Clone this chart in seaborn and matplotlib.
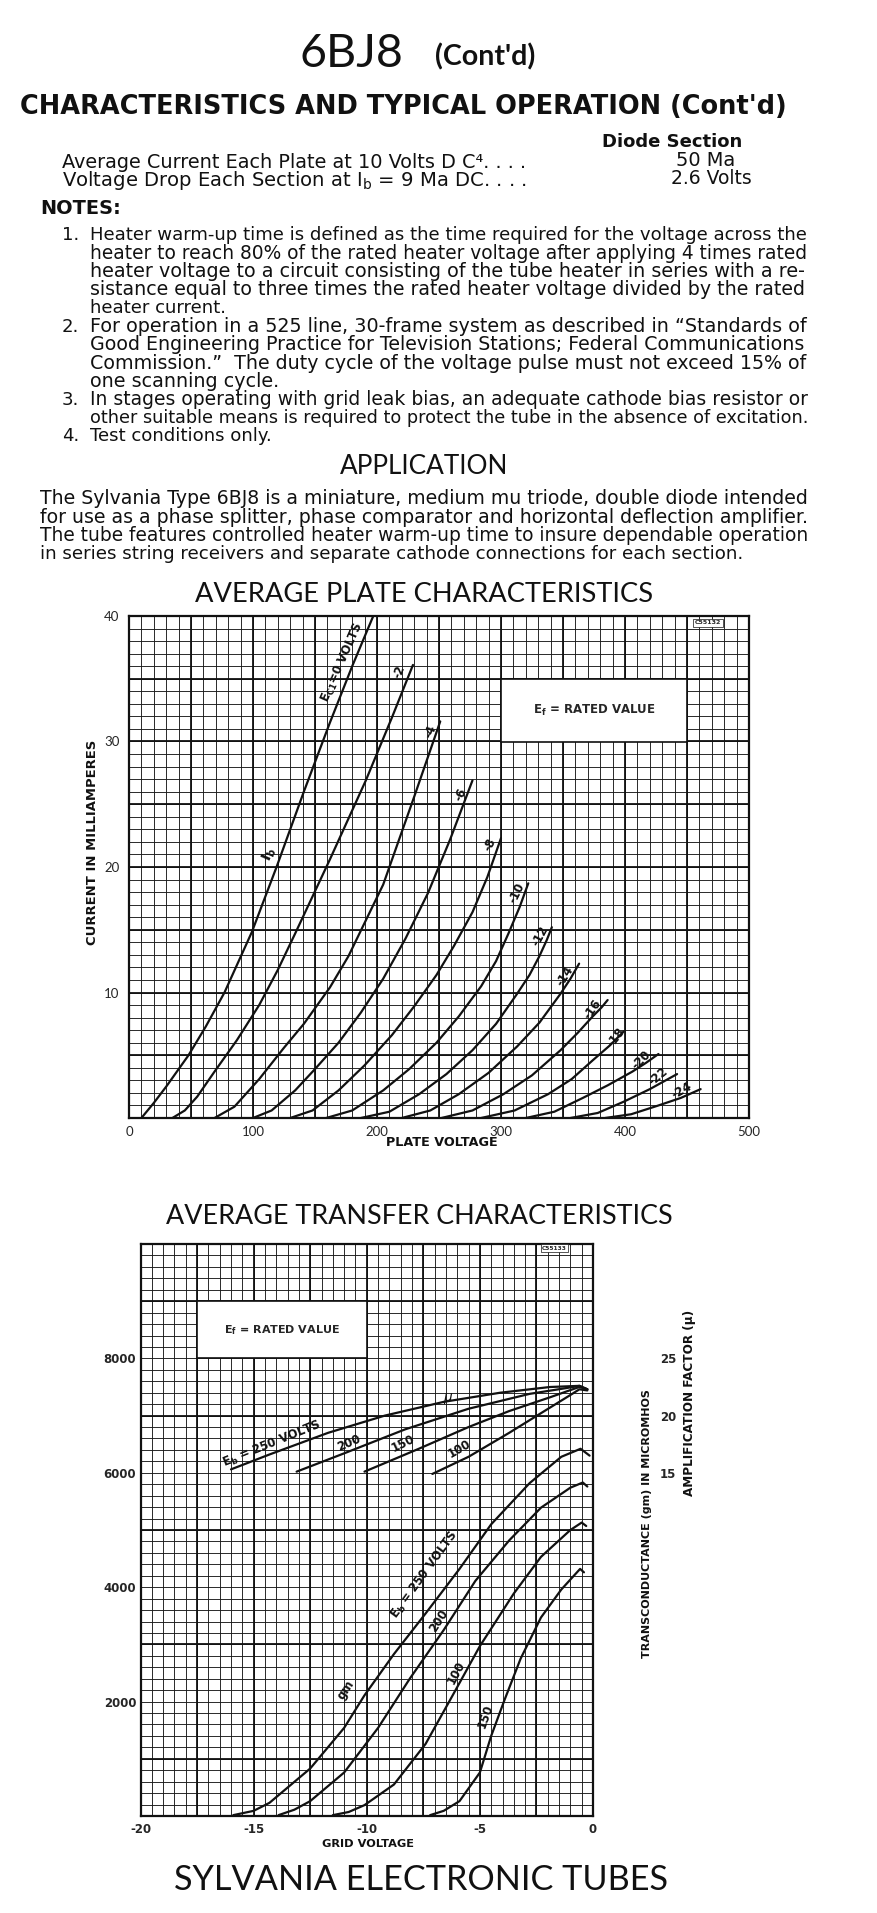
import matplotlib
matplotlib.use("Agg")
import matplotlib.pyplot as plt
import matplotlib.font_manager as fm
import matplotlib.transforms as mtransforms
from matplotlib.patches import Rectangle
import numpy as np
import pandas as pd
import seaborn as sns

# ---------------- average plate characteristics (Ib in mA vs Eb in volts) ----------------
grid_bias = [0, -2, -4, -6, -8, -10, -12, -14, -16, -18, -20, -22, -24]
plate_volts = [
    [10, 20, 30, 48, 62, 77, 99, 119, 141, 162, 180, 197],
    [35, 45, 55, 69, 87, 105, 120, 134, 162, 191, 212, 229],
    [69, 85, 105, 125, 141, 162, 177, 205, 230, 251],
    [100, 115, 134, 150, 169, 187, 205, 223, 241, 259, 277],
    [130, 148, 169, 190, 212, 230, 248, 262, 277, 289, 300],
    [159, 180, 205, 226, 248, 266, 284, 296, 306, 315, 322],
    [187, 210, 234, 256, 277, 296, 313, 323, 331, 337, 341],
    [220, 243, 266, 290, 313, 331, 348, 356, 363],
    [252, 277, 302, 325, 348, 362, 374, 381, 386],
    [284, 311, 338, 357, 374, 388, 399],
    [320, 343, 366, 386, 406, 417, 427],
    [356, 378, 399, 420, 442],
    [384, 405, 427, 445, 461],
]
plate_ma = [
    [0, 1.2, 2.5, 5.0, 7.3, 10.0, 14.8, 20.0, 26.0, 31.5, 36.0, 40.0],
    [0, 0.6, 1.7, 3.7, 6.2, 9.0, 11.8, 14.7, 20.6, 26.9, 31.9, 36.1],
    [0, 0.9, 3.1, 5.6, 7.5, 10.4, 12.9, 18.6, 25.6, 31.6],
    [0, 0.6, 2.2, 3.9, 6.0, 8.4, 11.1, 14.3, 17.9, 22.2, 26.9],
    [0, 0.6, 2.2, 4.2, 6.6, 8.9, 11.4, 13.7, 16.4, 19.2, 22.3],
    [0, 0.6, 2.2, 3.9, 6.0, 8.1, 10.5, 12.5, 14.7, 16.8, 18.7],
    [0, 0.5, 1.9, 3.5, 5.4, 7.5, 9.9, 11.4, 12.9, 14.2, 15.2],
    [0, 0.6, 1.9, 3.6, 5.7, 7.6, 9.9, 11.1, 12.3],
    [0, 0.6, 1.9, 3.4, 5.4, 6.8, 8.1, 8.8, 9.4],
    [0, 0.6, 1.9, 3.1, 4.6, 5.8, 6.9],
    [0, 0.5, 1.6, 2.6, 3.7, 4.4, 5.1],
    [0, 0.4, 1.3, 2.3, 3.5],
    [0, 0.3, 1.0, 1.6, 2.3],
]
plate_curve_text = ["-2", "-4", "-6", "-8", "-10", "-12", "-14", "-16", "-18", "-20", "-22", "-24"]
plate_text_pos = [(218, 35.6, 70), (243, 30.8, 68), (268, 25.8, 66), (291, 21.8, 65),
                  (313, 17.9, 64), (332, 14.5, 62), (352, 11.3, 58), (374, 8.7, 55),
                  (393, 6.4, 52), (413, 4.6, 45), (427, 3.3, 40), (446, 2.2, 30)]
plate_xticks = [0, 100, 200, 300, 400, 500]
plate_yticks = [10, 20, 30, 40]

# ---------------- average transfer characteristics ----------------
eb_mu = ["250", "200", "150", "100"]
mu_grid_volts = [
    [-16.0, -14.3, -11.7, -9.2, -6.6, -4.1, -1.9, -0.6, -0.25],
    [-13.1, -11.0, -8.3, -5.5, -2.8, -1.2, -0.6, -0.25],
    [-10.1, -7.7, -5.5, -3.7, -1.9, -0.9, -0.6, -0.25],
    [-7.1, -5.5, -3.7, -1.9, -1.0, -0.6, -0.25],
]
mu_values = [
    [15.3, 16.6, 18.5, 20.0, 21.2, 22.0, 22.5, 22.6, 22.3],
    [15.1, 16.7, 18.8, 20.6, 21.9, 22.4, 22.6, 22.3],
    [15.1, 17.1, 19.0, 20.4, 21.6, 22.3, 22.5, 22.3],
    [14.9, 16.4, 18.5, 20.7, 21.8, 22.3, 22.2],
]
eb_gm = ["250", "200", "100", "150"]   # printed this way on the sheet
gm_grid_volts = [
    [-15.9, -15.0, -14.3, -12.5, -11.0, -10.1, -8.8, -7.4, -5.9, -4.5, -2.8, -1.4, -0.55, -0.15],
    [-13.9, -13.2, -12.5, -11.0, -9.5, -8.1, -6.6, -5.2, -3.7, -2.3, -1.0, -0.45, -0.25],
    [-11.5, -10.8, -10.1, -8.8, -7.4, -6.3, -5.0, -3.5, -2.3, -1.0, -0.5, -0.3],
    [-7.2, -6.6, -5.9, -5.0, -4.5, -3.9, -3.2, -2.3, -1.4, -0.57, -0.4],
]
gm_values = [
    [15, 90, 230, 830, 1540, 2110, 2830, 3540, 4320, 5100, 5820, 6280, 6420, 6300],
    [15, 110, 260, 760, 1540, 2400, 3250, 4110, 4820, 5390, 5740, 5830, 5760],
    [15, 70, 190, 550, 1260, 2040, 2970, 3890, 4530, 5000, 5130, 5070],
    [15, 90, 260, 760, 1400, 2040, 2750, 3470, 3960, 4320, 4260],
]
grid_xticks = [-20, -15, -10, -5, 0]
gm_ticks = [2000, 4000, 6000, 8000]
mu_ticks = [15, 20, 25]


def pick_font(names):
    have = {f.name for f in fm.fontManager.ttflist}
    for n in names:
        if n in have:
            return n
    return "DejaVu Sans"


BODY = "DejaVu Sans"
NARROW = pick_font(["Liberation Sans Narrow", "DejaVu Sans"])
HEAD = pick_font(["Lato", "Open Sans", "DejaVu Sans"])

sns.set_style("white")
plt.rcParams["font.family"] = [BODY]
plt.rcParams["axes.unicode_minus"] = False

W, H = 878, 1913
fig = plt.figure(figsize=(W / 100, H / 100), dpi=100)
fig.patch.set_facecolor("white")
renderer = fig.canvas.get_renderer()


def put(x, y, s, length=None, size=10, family=BODY, weight="normal", ha="left", rotation=0):
    t = fig.text(x / W, 1 - y / H, s, fontsize=size, family=[family, "DejaVu Sans"],
                 weight=weight, ha=ha, va="center", rotation=rotation, color="#111111")
    if length:
        bb = t.get_window_extent(renderer)
        cur = bb.height if rotation == 90 else bb.width
        t.set_fontsize(size * length / cur)
    return t


# ---------------- page text ----------------
put(300, 54, "6BJ8", length=104, size=28, family=HEAD)
put(435, 57, "(Cont'd)", length=101, size=14, family=HEAD, weight="bold")
put(20, 107, "CHARACTERISTICS AND TYPICAL OPERATION (Cont'd)", length=764, size=20,
    family=NARROW, weight="bold")
put(602, 142, "Diode Section", length=140, size=11, weight="bold")
put(62, 162, "Average Current Each Plate at 10 Volts D C\u2074. . . .", length=466, size=11)
put(62, 180, r"Voltage Drop Each Section at I$_\mathrm{b}$ = 9 Ma DC. . . .", length=466, size=11)
put(706, 161, "50 Ma", length=59, size=11, ha="center")
put(711, 179, "2.6 Volts", length=81, size=11, ha="center")
put(40, 209, "NOTES:", length=81, size=12, weight="bold")

# full (justified) lines are fitted to the column; short closing lines keep the note's size
notes = [
    ("1.", [("Heater warm-up time is defined as the time required for the voltage across the", True),
            ("heater to reach 80% of the rated heater voltage after applying 4 times rated", True),
            ("heater voltage to a circuit consisting of the tube heater in series with a re-", True),
            ("sistance equal to three times the rated heater voltage divided by the rated", True),
            ("heater current.", False)]),
    ("2.", [("For operation in a 525 line, 30-frame system as described in \u201cStandards of", True),
            ("Good Engineering Practice for Television Stations; Federal Communications", True),
            ("Commission.\u201d  The duty cycle of the voltage pulse must not exceed 15% of", True),
            ("one scanning cycle.", False)]),
    ("3.", [("In stages operating with grid leak bias, an adequate cathode bias resistor or", True),
            ("other suitable means is required to protect the tube in the absence of excitation.", True)]),
    ("4.", [("Test conditions only.", False)]),
]
y = 235
note_size = None
for num, lines in notes:
    y0 = y
    first = None
    for text, full in lines:
        if full:
            sz = put(90, y, text, length=719, size=11).get_fontsize()
            first = first or sz
            note_size = note_size or sz
        else:
            put(90, y, text, size=first or note_size)
        y += 18.3
    put(62, y0, num, size=note_size)

put(424, 467, "APPLICATION", length=168, size=18, family=HEAD, ha="center")
app_lines = [
    ("The Sylvania Type 6BJ8 is a miniature, medium mu triode, double diode intended", 769),
    ("for use as a phase splitter, phase comparator and horizontal deflection amplifier.", 769),
    ("The tube features controlled heater warm-up time to insure dependable operation", 769),
    ("in series string receivers and separate cathode connections for each section.", 710),
]
for i, (text, length) in enumerate(app_lines):
    put(40, 499 + i * 18.4, text, length=length, size=11)

put(424, 595, "AVERAGE PLATE CHARACTERISTICS", length=457, size=18, family=HEAD, ha="center")
put(419, 1216, "AVERAGE TRANSFER CHARACTERISTICS", length=504, size=18, family=HEAD, ha="center")
put(421, 1880, "SYLVANIA ELECTRONIC TUBES", length=494, size=20, family=HEAD, ha="center")


def paper(ax, xmin, xmax, xstep, xmajor, ymin, ymax, ystep, ymajor):
    ax.vlines(np.arange(xmin, xmax + xstep / 2, xstep), ymin, ymax, color="#1a1a1a", lw=0.65, zorder=1)
    ax.hlines(np.arange(ymin, ymax + ystep / 2, ystep), xmin, xmax, color="#1a1a1a", lw=0.65, zorder=1)
    ax.vlines(xmajor, ymin, ymax, color="#111111", lw=1.3, zorder=1)
    ax.hlines(ymajor, xmin, xmax, color="#111111", lw=1.3, zorder=1)
    for s in ax.spines.values():
        s.set_visible(True)
        s.set_color("#111111")
        s.set_linewidth(1.6)


def curve_text(ax, x, y, s, angle, size=8.5, off=0):
    th = np.deg2rad(angle)
    tr = mtransforms.offset_copy(ax.transData, fig=fig, x=-off * np.sin(th), y=off * np.cos(th),
                                 units="dots")
    ax.text(x, y, s, transform=tr, rotation=angle, rotation_mode="anchor", ha="center",
            va="center", fontsize=size, weight="bold", color="#111111", zorder=5)


# ---------------- plate chart ----------------
ax1 = fig.add_axes([129 / W, 1 - 1118 / H, 620 / W, 502 / H])
paper(ax1, 0, 500, 10, np.arange(0, 501, 50), 0, 40, 1, np.arange(0, 41, 5))
ax1.add_patch(Rectangle((300, 30), 150, 5, facecolor="white", edgecolor="#111111", lw=1.2, zorder=2))
ax1.text(375, 32.5, r"E$_\mathbf{f}$ = RATED VALUE", ha="center", va="center", fontsize=8.5,
         weight="bold", zorder=5)
ax1.text(467, 39.45, "C55132", ha="center", va="center", fontsize=4.5, weight="bold", zorder=5,
         bbox=dict(boxstyle="square,pad=0.25", fc="white", ec="#111111", lw=0.5))

rows = []
for bias, vs, ms in zip(grid_bias, plate_volts, plate_ma):
    for v, m in zip(vs, ms):
        rows.append((bias, v, m))
plate_df = pd.DataFrame(rows, columns=["bias", "volts", "ma"])
sns.lineplot(data=plate_df, x="volts", y="ma", units="bias", estimator=None, sort=False,
             color="#111111", lw=1.6, ax=ax1, zorder=3, legend=False)

curve_text(ax1, 172, 36.3, r"E$_\mathbf{C1}$=0 VOLTS", 66, size=8.5)
curve_text(ax1, 113, 21.0, r"I$_\mathbf{b}$", 66, size=10)
for s, (vx, iy, ang) in zip(plate_curve_text, plate_text_pos):
    curve_text(ax1, vx, iy, s, ang, size=8.5)

ax1.set_xlim(0, 500)
ax1.set_ylim(0, 40)
ax1.set_xticks(plate_xticks)
ax1.set_xticklabels([str(v) for v in plate_xticks], family=HEAD, fontsize=9.5)
ax1.set_yticks(plate_yticks)
ax1.set_yticklabels([str(v) for v in plate_yticks], family=HEAD, fontsize=9.5)
ax1.tick_params(length=0)
ax1.tick_params(axis="x", pad=6)
ax1.tick_params(axis="y", pad=7)
ax1.set_xlabel("")
ax1.set_ylabel("")
put(442, 1143, "PLATE VOLTAGE", length=112, size=8.5, weight="bold", ha="center")
put(92, 842, "CURRENT IN MILLIAMPERES", length=205, size=8.5, weight="bold", ha="center", rotation=90)

# ---------------- transfer chart ----------------
ax2 = fig.add_axes([140.5 / W, 1 - 1816 / H, 452.5 / W, 572 / H])
paper(ax2, -20, 0, 0.5, np.arange(-20, 0.1, 2.5), 0, 10000, 200, np.arange(1000, 10000, 2000))
ax2.add_patch(Rectangle((-17.5, 8000), 7.5, 1000, facecolor="white", edgecolor="#111111", lw=1.2,
                        zorder=2))
ax2.text(-13.75, 8500, r"E$_\mathbf{f}$ = RATED VALUE", ha="center", va="center", fontsize=8,
         weight="bold", zorder=5)
ax2.text(-1.7, 9930, "C55133", ha="center", va="center", fontsize=4.2, weight="bold", zorder=5,
         bbox=dict(boxstyle="square,pad=0.25", fc="white", ec="#111111", lw=0.5))

rows = []
for name, vs, gs in zip(eb_gm, gm_grid_volts, gm_values):
    for v, g in zip(vs, gs):
        rows.append((name, v, g))
gm_df = pd.DataFrame(rows, columns=["eb", "grid", "gm"])
sns.lineplot(data=gm_df, x="grid", y="gm", units="eb", estimator=None, sort=False,
             color="#111111", lw=1.6, ax=ax2, zorder=3, legend=False)
ax2.set_xlim(-20, 0)
ax2.set_ylim(0, 10000)
ax2.set_xticks(grid_xticks)
ax2.set_xticklabels([str(v) for v in grid_xticks], fontsize=8.5, weight="bold")
ax2.yaxis.tick_right()
ax2.set_yticks(gm_ticks)
ax2.set_yticklabels([str(v) for v in gm_ticks], fontsize=8.5, weight="bold")
ax2.tick_params(length=0)
ax2.tick_params(axis="x", pad=5)
ax2.tick_params(axis="y", pad=3)
ax2.set_xlabel("")
ax2.set_ylabel("")

ax3 = ax2.twinx()
rows = []
for name, vs, ms in zip(eb_mu, mu_grid_volts, mu_values):
    for v, m in zip(vs, ms):
        rows.append((name, v, m))
mu_df = pd.DataFrame(rows, columns=["eb", "grid", "mu"])
sns.lineplot(data=mu_df, x="grid", y="mu", units="eb", estimator=None, sort=False,
             color="#111111", lw=1.6, ax=ax3, zorder=3, legend=False)
ax3.set_xlim(-20, 0)
ax3.set_ylim(-15, 35)
ax3.set_yticks(mu_ticks)
ax3.set_yticklabels([str(v) for v in mu_ticks], fontsize=8.5, weight="bold")
ax3.tick_params(length=0, pad=48)
ax3.set_xlabel("")
ax3.set_ylabel("")
for s in ax3.spines.values():
    s.set_visible(False)
ax3.grid(False)

curve_text(ax3, -14.2, 17.5, r"E$_\mathbf{b}$ = 250 VOLTS", 22, size=8.5)
curve_text(ax3, -10.8, 17.6, "200", 23, size=8.5)
curve_text(ax3, -8.4, 17.6, "150", 26, size=8.5)
curve_text(ax3, -5.9, 17.1, "100", 30, size=8.5)
curve_text(ax3, -6.4, 21.5, r"$\mu$", 0, size=10)

curve_text(ax2, -7.2, 4150, r"E$_\mathbf{b}$ = 250 VOLTS", 54, size=8.5, off=6)
curve_text(ax2, -6.6, 3350, "200", 57, size=8.5, off=6)
curve_text(ax2, -5.8, 2450, "100", 62, size=8.5, off=6)
curve_text(ax2, -4.5, 1700, "150", 70, size=8.5, off=6)
curve_text(ax2, -10.7, 2150, "gm", 56, size=8.5, off=6)

put(368, 1844, "GRID VOLTAGE", length=92, size=8, weight="bold", ha="center")
put(647, 1524, "TRANSCONDUCTANCE (gm) IN MICROMHOS", length=270, size=8, weight="bold",
    ha="center", rotation=90)
put(690, 1403, "AMPLIFICATION FACTOR (\u03bc)", length=185, size=8, weight="bold",
    ha="center", rotation=90)

fig.savefig("out.png", dpi=100, facecolor="white")
